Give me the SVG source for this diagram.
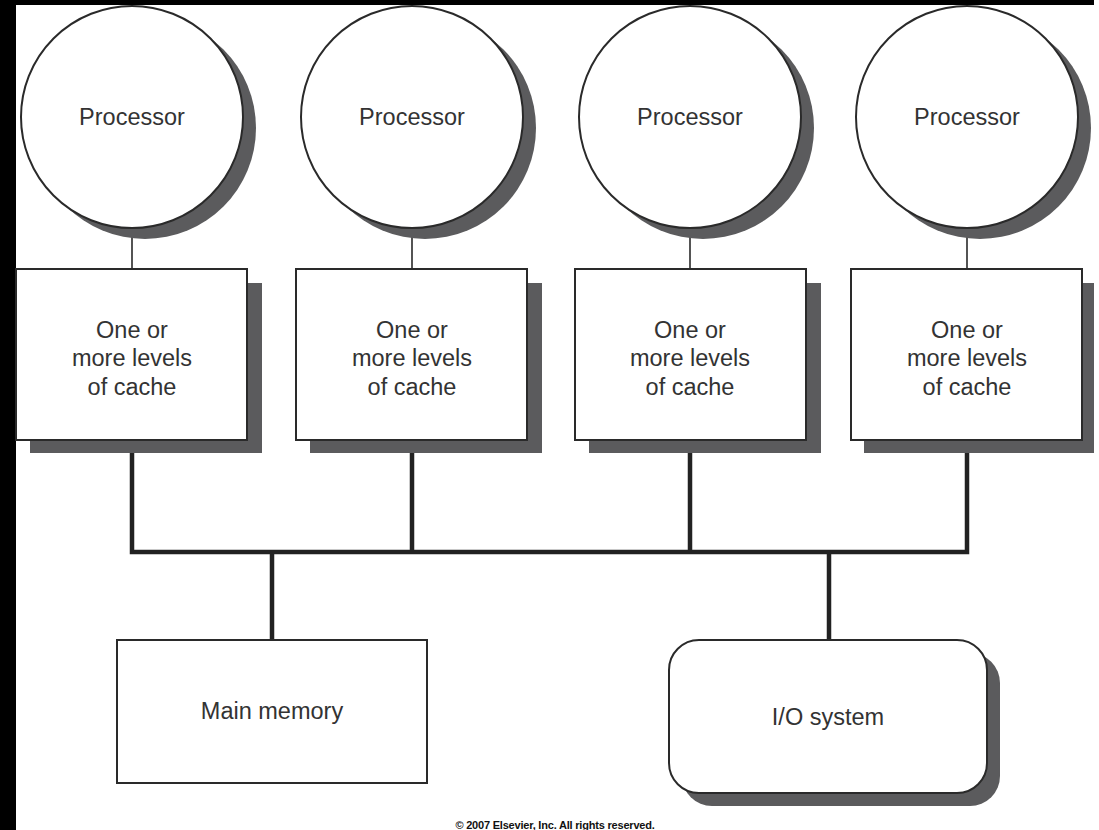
<svg xmlns="http://www.w3.org/2000/svg" width="1099" height="830" viewBox="0 0 1099 830">
<style>
.sh{fill:#5b5b5d}
.nd{fill:#fff;stroke:#2a2a2a;stroke-width:2}
.t{font-family:"Liberation Sans",Arial,sans-serif;font-size:23.5px;fill:#333;text-anchor:middle}
.thin{stroke:#2a2a2a;stroke-width:1.6;fill:none}
.bus{stroke:#222;stroke-width:4.5;fill:none;stroke-linecap:square}
</style>
<rect x="0" y="0" width="1099" height="830" fill="#fff"/>
<rect x="0" y="0" width="16" height="830" fill="#000"/>
<rect x="0" y="0" width="1094" height="5" fill="#000"/>

<g id="connectors">
<line class="thin" x1="132" y1="228" x2="132" y2="269"/>
<line class="thin" x1="412" y1="228" x2="412" y2="269"/>
<line class="thin" x1="690" y1="228" x2="690" y2="269"/>
<line class="thin" x1="967" y1="228" x2="967" y2="269"/>
<path class="bus" d="M132,440 V552 H967 V440 M412,440 V552 M690,440 V552 M272,552 V640 M829,552 V640"/>
</g>

<g id="proc1">
<circle class="sh" cx="145" cy="128" r="111"/>
<circle class="nd" cx="132" cy="117" r="111"/>
<text class="t" x="132" y="125">Processor</text>
</g>
<g id="proc2">
<circle class="sh" cx="425" cy="128" r="111"/>
<circle class="nd" cx="412" cy="117" r="111"/>
<text class="t" x="412" y="125">Processor</text>
</g>
<g id="proc3">
<circle class="sh" cx="703" cy="128" r="111"/>
<circle class="nd" cx="690" cy="117" r="111"/>
<text class="t" x="690" y="125">Processor</text>
</g>
<g id="proc4">
<circle class="sh" cx="980" cy="128" r="111"/>
<circle class="nd" cx="967" cy="117" r="111"/>
<text class="t" x="967" y="125">Processor</text>
</g>

<g id="cache1">
<rect class="sh" x="30" y="283" width="232" height="170"/>
<rect class="nd" x="16" y="269" width="231" height="171"/>
<text class="t" x="132" y="338">One or</text>
<text class="t" x="132" y="366">more levels</text>
<text class="t" x="132" y="395">of cache</text>
</g>
<g id="cache2">
<rect class="sh" x="310" y="283" width="232" height="170"/>
<rect class="nd" x="296" y="269" width="231" height="171"/>
<text class="t" x="412" y="338">One or</text>
<text class="t" x="412" y="366">more levels</text>
<text class="t" x="412" y="395">of cache</text>
</g>
<g id="cache3">
<rect class="sh" x="589" y="283" width="232" height="170"/>
<rect class="nd" x="575" y="269" width="231" height="171"/>
<text class="t" x="690" y="338">One or</text>
<text class="t" x="690" y="366">more levels</text>
<text class="t" x="690" y="395">of cache</text>
</g>
<g id="cache4">
<rect class="sh" x="864" y="283" width="230" height="170"/>
<rect class="nd" x="851" y="269" width="231" height="171"/>
<text class="t" x="967" y="338">One or</text>
<text class="t" x="967" y="366">more levels</text>
<text class="t" x="967" y="395">of cache</text>
</g>

<g id="mainmem">
<rect class="nd" x="117" y="640" width="310" height="143"/>
<text class="t" x="272" y="719">Main memory</text>
</g>
<g id="io">
<rect class="sh" x="682" y="653" width="318" height="153" rx="30"/>
<rect class="nd" x="669" y="640" width="318" height="153" rx="30"/>
<text class="t" x="828" y="725">I/O system</text>
</g>

<text x="555" y="829" font-family="'Liberation Sans',Arial,sans-serif" font-size="11" font-weight="bold" fill="#111" text-anchor="middle" letter-spacing="-0.2">© 2007 Elsevier, Inc. All rights reserved.</text>
</svg>
